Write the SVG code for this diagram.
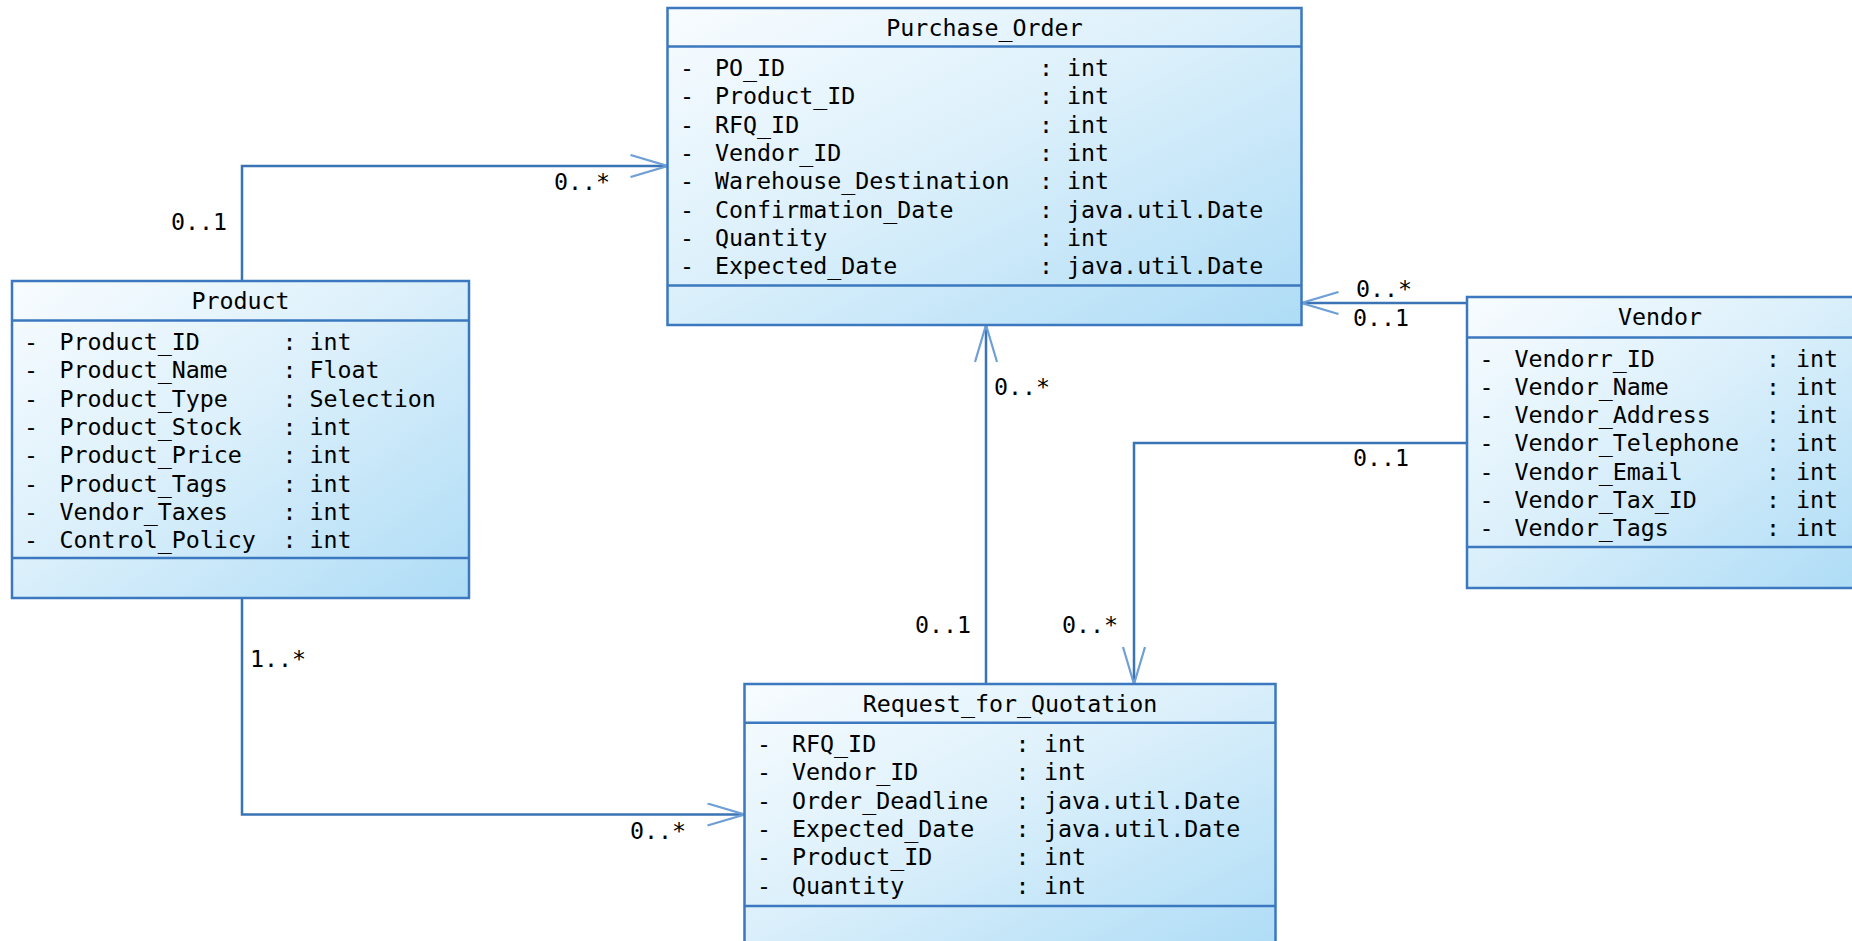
<svg xmlns="http://www.w3.org/2000/svg" width="1852" height="941" viewBox="0 0 1852 941">
<defs>
<linearGradient id="boxfill" x1="0" y1="0" x2="1" y2="1">
<stop offset="0" stop-color="#f8fcff"/>
<stop offset="0.45" stop-color="#dcf0fb"/>
<stop offset="1" stop-color="#aedcf6"/>
</linearGradient>
<marker id="open" viewBox="0 0 40 24" refX="38" refY="12" markerWidth="40" markerHeight="24" markerUnits="userSpaceOnUse" orient="auto">
<path d="M1,1 L38,12 L1,23" fill="none" stroke="#6e9fd6" stroke-width="2.2"/>
</marker>
<style>
.box{fill:url(#boxfill);stroke:#3b78bf;stroke-width:2.5}
.sep{stroke:#3b78bf;stroke-width:2.5;fill:none}
.t{font-family:"DejaVu Sans Mono","Liberation Mono",monospace;font-size:23.3px;fill:#000}
.h{text-anchor:middle}
.conn{fill:none;stroke:#3b74b5;stroke-width:2.5;marker-end:url(#open)}
</style>
</defs>
<rect width="1852" height="941" fill="#ffffff"/>

<g id="connectors">
<path class="conn" d="M242,281 V166 H667.5"/>
<path class="conn" d="M242,598 V814.5 H744.5"/>
<path class="conn" d="M986,684 V325"/>
<path class="conn" d="M1467,303 H1301.5"/>
<path class="conn" d="M1467,443 H1134 V684"/>
<text class="t" x="171" y="230">0..1</text>
<text class="t" x="554" y="190">0..*</text>
<text class="t" x="250" y="667">1..*</text>
<text class="t" x="630" y="839">0..*</text>
<text class="t" x="994" y="395">0..*</text>
<text class="t" x="915" y="633">0..1</text>
<text class="t" x="1356" y="297">0..*</text>
<text class="t" x="1353" y="326">0..1</text>
<text class="t" x="1353" y="466">0..1</text>
<text class="t" x="1062" y="633">0..*</text>
</g>

<g id="Purchase_Order">
<rect class="box" x="667.5" y="8" width="634" height="317"/>
<path class="sep" d="M667.5,46.5 H1301.5 M667.5,285.5 H1301.5"/>
<text class="t h" x="984.5" y="36">Purchase_Order</text>
<text class="t" y="76"><tspan x="680">-</tspan><tspan x="715">PO_ID</tspan><tspan x="1039">:</tspan><tspan x="1067">int</tspan></text>
<text class="t" y="104.3"><tspan x="680">-</tspan><tspan x="715">Product_ID</tspan><tspan x="1039">:</tspan><tspan x="1067">int</tspan></text>
<text class="t" y="132.6"><tspan x="680">-</tspan><tspan x="715">RFQ_ID</tspan><tspan x="1039">:</tspan><tspan x="1067">int</tspan></text>
<text class="t" y="160.9"><tspan x="680">-</tspan><tspan x="715">Vendor_ID</tspan><tspan x="1039">:</tspan><tspan x="1067">int</tspan></text>
<text class="t" y="189.2"><tspan x="680">-</tspan><tspan x="715">Warehouse_Destination</tspan><tspan x="1039">:</tspan><tspan x="1067">int</tspan></text>
<text class="t" y="217.5"><tspan x="680">-</tspan><tspan x="715">Confirmation_Date</tspan><tspan x="1039">:</tspan><tspan x="1067">java.util.Date</tspan></text>
<text class="t" y="245.8"><tspan x="680">-</tspan><tspan x="715">Quantity</tspan><tspan x="1039">:</tspan><tspan x="1067">int</tspan></text>
<text class="t" y="274.1"><tspan x="680">-</tspan><tspan x="715">Expected_Date</tspan><tspan x="1039">:</tspan><tspan x="1067">java.util.Date</tspan></text>
</g>

<g id="Product">
<rect class="box" x="12" y="281" width="457" height="317"/>
<path class="sep" d="M12,320.5 H469 M12,558 H469"/>
<text class="t h" x="240.5" y="309">Product</text>
<text class="t" y="350"><tspan x="24">-</tspan><tspan x="59.5">Product_ID</tspan><tspan x="282.5">:</tspan><tspan x="309.5">int</tspan></text>
<text class="t" y="378.3"><tspan x="24">-</tspan><tspan x="59.5">Product_Name</tspan><tspan x="282.5">:</tspan><tspan x="309.5">Float</tspan></text>
<text class="t" y="406.6"><tspan x="24">-</tspan><tspan x="59.5">Product_Type</tspan><tspan x="282.5">:</tspan><tspan x="309.5">Selection</tspan></text>
<text class="t" y="434.9"><tspan x="24">-</tspan><tspan x="59.5">Product_Stock</tspan><tspan x="282.5">:</tspan><tspan x="309.5">int</tspan></text>
<text class="t" y="463.2"><tspan x="24">-</tspan><tspan x="59.5">Product_Price</tspan><tspan x="282.5">:</tspan><tspan x="309.5">int</tspan></text>
<text class="t" y="491.5"><tspan x="24">-</tspan><tspan x="59.5">Product_Tags</tspan><tspan x="282.5">:</tspan><tspan x="309.5">int</tspan></text>
<text class="t" y="519.8"><tspan x="24">-</tspan><tspan x="59.5">Vendor_Taxes</tspan><tspan x="282.5">:</tspan><tspan x="309.5">int</tspan></text>
<text class="t" y="548.1"><tspan x="24">-</tspan><tspan x="59.5">Control_Policy</tspan><tspan x="282.5">:</tspan><tspan x="309.5">int</tspan></text>
</g>

<g id="Vendor">
<rect class="box" x="1467" y="297" width="390" height="291"/>
<path class="sep" d="M1467,337.5 H1857 M1467,547 H1857"/>
<text class="t h" x="1660" y="325">Vendor</text>
<text class="t" y="366.5"><tspan x="1479.5">-</tspan><tspan x="1514.5">Vendorr_ID</tspan><tspan x="1766">:</tspan><tspan x="1796">int</tspan></text>
<text class="t" y="394.8"><tspan x="1479.5">-</tspan><tspan x="1514.5">Vendor_Name</tspan><tspan x="1766">:</tspan><tspan x="1796">int</tspan></text>
<text class="t" y="423.1"><tspan x="1479.5">-</tspan><tspan x="1514.5">Vendor_Address</tspan><tspan x="1766">:</tspan><tspan x="1796">int</tspan></text>
<text class="t" y="451.4"><tspan x="1479.5">-</tspan><tspan x="1514.5">Vendor_Telephone</tspan><tspan x="1766">:</tspan><tspan x="1796">int</tspan></text>
<text class="t" y="479.7"><tspan x="1479.5">-</tspan><tspan x="1514.5">Vendor_Email</tspan><tspan x="1766">:</tspan><tspan x="1796">int</tspan></text>
<text class="t" y="508"><tspan x="1479.5">-</tspan><tspan x="1514.5">Vendor_Tax_ID</tspan><tspan x="1766">:</tspan><tspan x="1796">int</tspan></text>
<text class="t" y="536.3"><tspan x="1479.5">-</tspan><tspan x="1514.5">Vendor_Tags</tspan><tspan x="1766">:</tspan><tspan x="1796">int</tspan></text>
</g>

<g id="Request_for_Quotation">
<rect class="box" x="744.5" y="684" width="531" height="266"/>
<path class="sep" d="M744.5,722.7 H1275.5 M744.5,906 H1275.5"/>
<text class="t h" x="1010" y="712">Request_for_Quotation</text>
<text class="t" y="752"><tspan x="757">-</tspan><tspan x="792">RFQ_ID</tspan><tspan x="1015.5">:</tspan><tspan x="1044">int</tspan></text>
<text class="t" y="780.3"><tspan x="757">-</tspan><tspan x="792">Vendor_ID</tspan><tspan x="1015.5">:</tspan><tspan x="1044">int</tspan></text>
<text class="t" y="808.6"><tspan x="757">-</tspan><tspan x="792">Order_Deadline</tspan><tspan x="1015.5">:</tspan><tspan x="1044">java.util.Date</tspan></text>
<text class="t" y="836.9"><tspan x="757">-</tspan><tspan x="792">Expected_Date</tspan><tspan x="1015.5">:</tspan><tspan x="1044">java.util.Date</tspan></text>
<text class="t" y="865.2"><tspan x="757">-</tspan><tspan x="792">Product_ID</tspan><tspan x="1015.5">:</tspan><tspan x="1044">int</tspan></text>
<text class="t" y="893.5"><tspan x="757">-</tspan><tspan x="792">Quantity</tspan><tspan x="1015.5">:</tspan><tspan x="1044">int</tspan></text>
</g>
</svg>
